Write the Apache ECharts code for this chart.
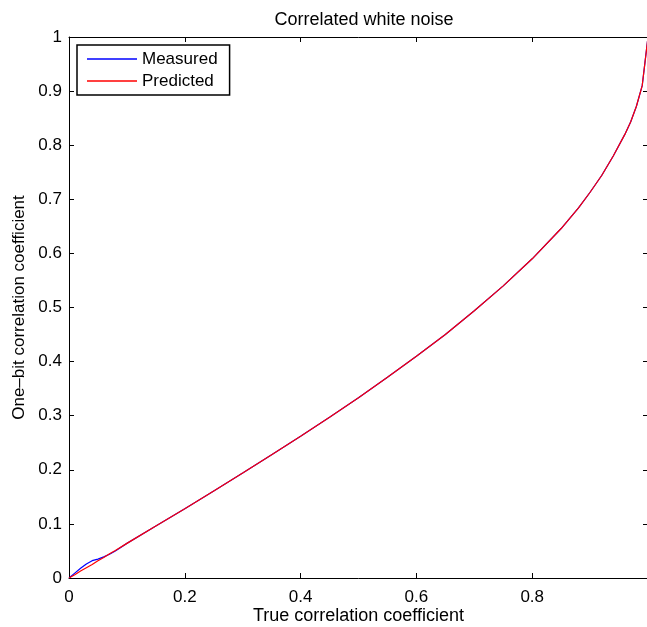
<!DOCTYPE html>
<html>
<head>
<meta charset="utf-8">
<script src="https://cdn.jsdelivr.net/npm/echarts@6/dist/echarts.min.js"></script>
<style>
  html, body { margin: 0; padding: 0; background: #fff; }
  #main { width: 647px; height: 627px; }
</style>
</head>
<body>
<div id="main"></div>
<script>
// true correlation coefficient (x)
var rho = [0, 0.01, 0.02, 0.03, 0.04, 0.05, 0.06, 0.07, 0.08, 0.1,
    0.15, 0.2, 0.25, 0.3, 0.35, 0.4, 0.45, 0.5, 0.55, 0.6,
    0.65, 0.7, 0.75, 0.8, 0.85, 0.88, 0.9, 0.92, 0.94, 0.96,
    0.97, 0.98, 0.99, 1.0];
// one-bit correlation
var measured = [0, 0.009, 0.018, 0.026, 0.032, 0.035, 0.039, 0.044, 0.050, 0.064,
    0.096, 0.128, 0.161, 0.194, 0.228, 0.262, 0.297, 0.333, 0.371, 0.410,
    0.450, 0.494, 0.540, 0.590, 0.646, 0.684, 0.713, 0.744, 0.780, 0.820,
    0.843, 0.872, 0.910, 1.0];
var predicted = [0, 0.006, 0.013, 0.019, 0.025, 0.032, 0.038, 0.045, 0.051, 0.064,
    0.096, 0.128, 0.161, 0.194, 0.228, 0.262, 0.297, 0.333, 0.371, 0.410,
    0.450, 0.494, 0.540, 0.590, 0.646, 0.684, 0.713, 0.744, 0.780, 0.820,
    0.843, 0.872, 0.910, 1.0];

function pairs(xs, ys) {
    return xs.map(function (x, i) { return [x, ys[i]]; });
}

var font = 'Liberation Sans, Helvetica, Arial, sans-serif';
var axisCommon = {
    type: 'value',
    min: 0,
    max: 1,
    interval: 0.1,
    axisLine: { show: true, onZero: false, lineStyle: { color: '#000', width: 1 } },
    axisTick: { show: true, inside: true, length: 5, lineStyle: { color: '#000' } },
    splitLine: { show: false }
};

option = {
    animation: false,
    title: {
        text: 'Correlated white noise',
        left: 359,
        textAlign: 'center',
        top: 6,
        textStyle: { fontFamily: font, fontSize: 18, fontWeight: 'normal', color: '#000' }
    },
    legend: {
        data: ['Measured', 'Predicted'],
        orient: 'vertical',
        left: 77,
        top: 45,
        padding: [3, 12, 3, 10],
        itemGap: 0,
        itemWidth: 50,
        itemHeight: 1.5,
        itemTextGap: 7,
        icon: 'rect',
        borderColor: '#000',
        borderWidth: 1.5,
        backgroundColor: '#fff',
        textStyle: { fontFamily: font, fontSize: 17, color: '#000', lineHeight: 22 }
    },
    grid: { left: 69, top: 37, right: -1, bottom: 49, outerBoundsMode: 'none' },
    xAxis: [
        Object.assign({}, axisCommon, {
            interval: 0.2,
            position: 'bottom',
            name: 'True correlation coefficient',
            nameLocation: 'middle',
            nameGap: 29,
            nameMoveOverlap: false,
            nameTextStyle: { fontFamily: font, fontSize: 18, color: '#000' },
            axisLabel: { fontFamily: font, fontSize: 17, color: '#000', margin: 11, showMaxLabel: false }
        }),
        Object.assign({}, axisCommon, {
            interval: 0.2,
            position: 'top',
            axisLabel: { show: false }
        })
    ],
    yAxis: [
        Object.assign({}, axisCommon, {
            position: 'left',
            name: 'One\u2013bit correlation coefficient',
            nameLocation: 'middle',
            nameGap: 37,
            nameTextStyle: { fontFamily: font, fontSize: 17, color: '#000' },
            axisLabel: { fontFamily: font, fontSize: 17, color: '#000', margin: 7 }
        }),
        Object.assign({}, axisCommon, {
            position: 'right',
            axisLabel: { show: false }
        })
    ],
    series: [{
        name: 'Measured',
        type: 'line',
        color: '#0000ff',
        showSymbol: false,
        lineStyle: { width: 1.2 },
        data: pairs(rho, measured)
    }, {
        name: 'Predicted',
        type: 'line',
        color: '#ff0000',
        showSymbol: false,
        lineStyle: { width: 1.2 },
        data: pairs(rho, predicted)
    }]
};
var myChart = echarts.init(document.getElementById('main'));
myChart.setOption(option);
</script>
</body>
</html>
